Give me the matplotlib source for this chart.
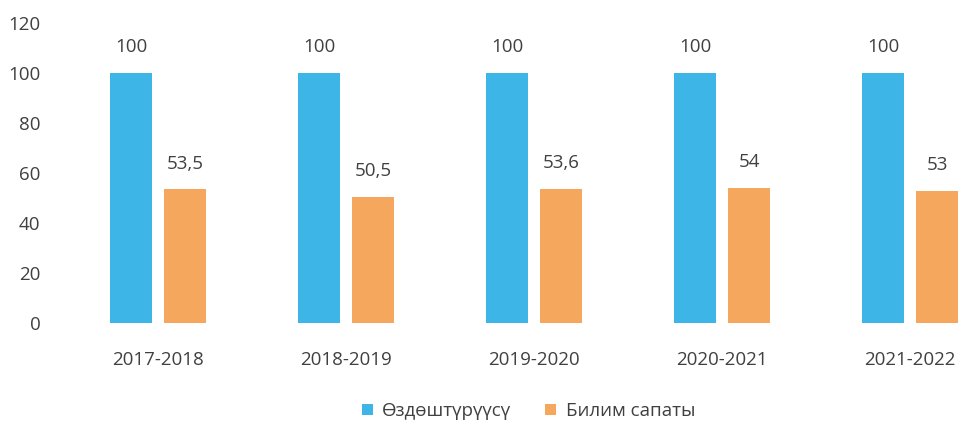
import numpy as np
import matplotlib.pyplot as plt

plt.rcParams['font.family'] = ['Open Sans', 'DejaVu Sans']

# chart data
years = ["2017-2018", "2018-2019", "2019-2020", "2020-2021", "2021-2022"]
mastery = [100, 100, 100, 100, 100]
quality = [53.5, 50.5, 53.6, 54, 53]
mastery_labels = ["100", "100", "100", "100", "100"]
quality_labels = ["53,5", "50,5", "53,6", "54", "53"]
series_names = ["Өздөштүрүүсү", "Билим сапаты"]

blue = "#3db5e6"
orange = "#f6a75e"
text_col = "#404040"

fig = plt.figure(figsize=(9.61, 4.26), dpi=100)
ax = fig.add_axes([64 / 961, 103 / 426, 897 / 961, 300 / 426])

x = np.arange(len(years))
w = 0.223
off = 0.144
b1 = ax.bar(x - off, mastery, w, color=blue, label=series_names[0])
b2 = ax.bar(x + off, quality, w, color=orange, label=series_names[1])

for rect, lab in zip(b1, mastery_labels):
    ax.annotate(lab, (rect.get_x() + rect.get_width() / 2, rect.get_height()),
                xytext=(0, 12), textcoords="offset points", ha="center", va="bottom",
                fontsize=13.5, color=text_col)
for rect, lab in zip(b2, quality_labels):
    ax.annotate(lab, (rect.get_x() + rect.get_width() / 2, rect.get_height()),
                xytext=(0, 12), textcoords="offset points", ha="center", va="bottom",
                fontsize=13.5, color=text_col)

ax.set_xlim(-0.5, -0.5 + 897 / 188)
ax.set_ylim(0, 120)
ax.set_yticks(range(0, 121, 20))
ax.set_xticks(x)
ax.set_xticklabels(years)
ax.tick_params(axis="both", length=0, labelsize=13.5, labelcolor=text_col)
ax.tick_params(axis="x", pad=20)
ax.tick_params(axis="y", pad=17)
for s in ax.spines.values():
    s.set_visible(False)

fig.legend(loc="center", bbox_to_anchor=(0.55, 0.035), ncol=2, frameon=False,
           fontsize=13.5, handlelength=0.6, handleheight=0.6, columnspacing=1.8,
           handletextpad=0.5, labelcolor=text_col)

fig.savefig("out.png", dpi=100)
